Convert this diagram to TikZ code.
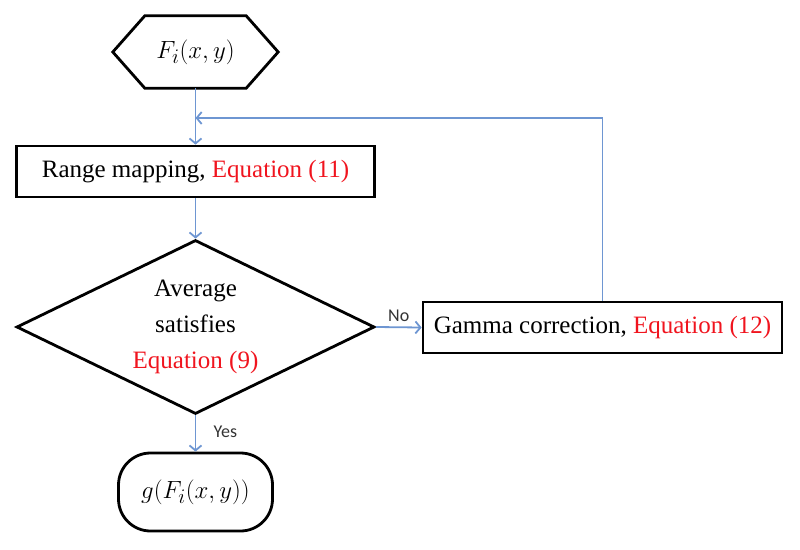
\documentclass[tikz,border=0pt]{standalone}
\usepackage{fontspec}
\setmainfont{Liberation Serif}
\newfontfamily\labelfont{Carlito}
\usetikzlibrary{shapes.geometric,arrows.meta,calc}
\definecolor{flowblue}{RGB}{110,150,210}
\definecolor{eqred}{RGB}{240,20,30}
\begin{document}
\begin{tikzpicture}[x=1pt,y=-1pt,
  box/.style={draw=black,line width=2.8pt,minimum width=358pt,minimum height=51pt,inner sep=0pt,font=\fontsize{25}{30}\selectfont},
  decision/.style={draw=black,line width=2.8pt,diamond,aspect=2.06,minimum width=358pt,minimum height=174pt,inner sep=0pt,align=center,font=\fontsize{25}{36}\selectfont},
  terminal/.style={draw=black,line width=2.8pt,rounded corners=32pt,minimum width=154pt,minimum height=78pt,inner sep=0pt,font=\fontsize{28}{32}\selectfont},
  flow/.style={draw=flowblue,line width=1.8pt,-{Straight Barb[length=5pt,width=12pt]}},
  tag/.style={font=\labelfont\fontsize{18}{20}\selectfont,text=black!80}
]
\useasboundingbox (0,0) rectangle (800,549);
% start hexagon
\node[minimum width=165pt,minimum height=72pt,inner sep=0pt,font=\fontsize{28}{32}\selectfont] (start) at (195.5,52) {$F_i(x,y)$};
\draw[line width=2.8pt,line join=miter] (start.west) -- ([xshift=32pt]start.north west) -- ([xshift=-32pt]start.north east) -- (start.east) -- ([xshift=-32pt]start.south east) -- ([xshift=32pt]start.south west) -- cycle;
% range mapping
\node[box] (range) at (195.5,171.5) {Range mapping, \textcolor{eqred}{Equation (11)}};
% decision
\node[decision] (dec) at (195.5,327) {Average\\satisfies\\\textcolor{eqred}{Equation (9)}};
% gamma
\node[box,minimum width=359pt] (gamma) at (602.5,327.5) {Gamma correction, \textcolor{eqred}{Equation (12)}};
% end
\node[terminal] (end) at (195.5,492) {$g(F_i(x,y))$};
\coordinate (fbin) at (195.5,118);
% connectors
\draw[flow] (start.south) -- (range.north);
\draw[flow] (range.south) -- (dec.north);
\draw[flow] (dec.east) -- node[tag,above,yshift=1pt] {No} (gamma.west);
\draw[flow] (dec.south) -- node[tag,right,pos=0.45,xshift=14pt] {Yes} (end.north);
\draw[flow] (gamma.north) |- (fbin);
\end{tikzpicture}
\end{document}
